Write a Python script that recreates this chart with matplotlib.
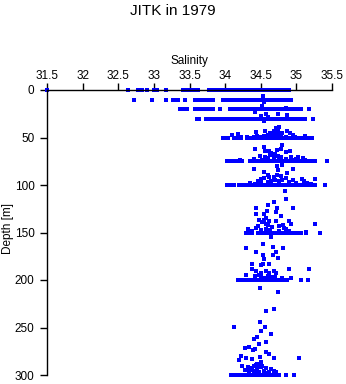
import matplotlib
matplotlib.use("Agg")
import matplotlib.pyplot as plt

plt.rcParams['font.family'] = ['Liberation Sans', 'DejaVu Sans']

title = "JITK in 1979"
xlabel = "Salinity"
ylabel = "Depth [m]"
xticks = [31.5, 32, 32.5, 33, 33.5, 34, 34.5, 35, 35.5]
xticklabels = ["31.5", "32", "32.5", "33", "33.5", "34", "34.5", "35", "35.5"]
yticks = [0, 50, 100, 150, 200, 250, 300]

# Standard-depth bands: depth and salinity values observed at that depth
level_depths = [0, 10.5, 20.3, 30, 51, 75, 100, 150, 200, 299.5]
sal_000 = [31.5, 32.64, 32.78, 32.81, 32.84, 32.9, 33.0, 33.02, 33.05, 33.17, 33.41, 33.44, 33.47, 33.5, 33.54,
           33.58, 33.62, 33.78, 33.83, 33.86, 33.88, 33.91, 33.94, 33.96, 33.99, 34.02, 34.04, 34.07, 34.1, 34.12,
           34.15, 34.18, 34.2, 34.23, 34.26, 34.28, 34.31, 34.34, 34.36, 34.39, 34.42, 34.44, 34.47, 34.5, 34.52,
           34.55, 34.58, 34.6, 34.63, 34.66, 34.68, 34.71, 34.74, 34.76, 34.79, 34.82, 34.84, 34.87, 34.9]
sal_010 = [32.72, 32.97, 33.17, 33.27, 33.31, 33.34, 33.44, 33.58, 33.61, 33.64, 33.68, 33.72, 33.76, 33.8, 33.83,
           33.97, 34.02, 34.05, 34.07, 34.1, 34.13, 34.15, 34.18, 34.21, 34.23, 34.26, 34.29, 34.31, 34.34, 34.37,
           34.39, 34.42, 34.45, 34.47, 34.5, 34.53, 34.55, 34.58, 34.61, 34.63, 34.66, 34.69, 34.71, 34.74, 34.77,
           34.79, 34.82, 34.85, 34.87, 34.9, 34.93]
sal_020 = [33.37, 33.41, 33.46, 33.58, 33.61, 33.65, 33.7, 33.74, 33.8, 33.83, 33.93, 34.07, 34.09, 34.12, 34.15,
           34.17, 34.2, 34.23, 34.25, 34.28, 34.31, 34.33, 34.36, 34.39, 34.41, 34.44, 34.47, 34.49, 34.52, 34.55,
           34.57, 34.6, 34.63, 34.65, 34.68, 34.71, 34.73, 34.76, 34.79, 34.81, 34.84, 34.87, 34.89, 34.92, 34.97,
           35.0, 35.04, 35.07, 35.18]
sal_030 = [33.6, 33.63, 33.73, 33.78, 33.83, 33.86, 33.9, 33.94, 33.97, 34.0, 34.03, 34.06, 34.08, 34.11, 34.14,
           34.16, 34.19, 34.22, 34.24, 34.27, 34.3, 34.32, 34.35, 34.38, 34.4, 34.43, 34.46, 34.48, 34.51, 34.54,
           34.56, 34.59, 34.62, 34.64, 34.67, 34.7, 34.72, 34.75, 34.78, 34.8, 34.83, 34.86, 34.88, 34.91, 34.94,
           35.0, 35.05, 35.08, 35.12, 35.23]
sal_050 = [33.97, 34.0, 34.04, 34.12, 34.15, 34.19, 34.22, 34.3, 34.33, 34.36, 34.4, 34.42, 34.45, 34.47, 34.5,
           34.53, 34.55, 34.58, 34.61, 34.63, 34.66, 34.69, 34.71, 34.74, 34.77, 34.79, 34.82, 34.85, 34.87, 34.9,
           34.93, 34.95, 34.98, 35.01, 35.03, 35.06, 35.09, 35.11, 35.14, 35.17, 35.19, 35.22]
sal_075 = [34.03, 34.06, 34.1, 34.14, 34.18, 34.21, 34.24, 34.35, 34.38, 34.4, 34.43, 34.46, 34.48, 34.51, 34.54,
           34.56, 34.59, 34.62, 34.64, 34.67, 34.7, 34.72, 34.75, 34.78, 34.8, 34.83, 34.86, 34.88, 34.91, 34.94,
           34.96, 34.99, 35.02, 35.04, 35.07, 35.1, 35.12, 35.15, 35.18, 35.2, 35.23, 35.26, 35.43]
sal_100 = [34.03, 34.06, 34.09, 34.13, 34.2, 34.25, 34.3, 34.33, 34.36, 34.38, 34.41, 34.44, 34.46, 34.49, 34.52,
           34.54, 34.57, 34.6, 34.62, 34.65, 34.68, 34.7, 34.73, 34.76, 34.78, 34.81, 34.84, 34.86, 34.89, 34.92,
           34.94, 34.97, 35.0, 35.03, 35.06, 35.1, 35.14, 35.17, 35.2, 35.26, 35.4]
sal_150 = [34.29, 34.32, 34.38, 34.46, 34.48, 34.51, 34.54, 34.56, 34.59, 34.62, 34.64, 34.67, 34.7, 34.72, 34.75,
           34.78, 34.8, 34.83, 34.86, 34.88, 34.91, 34.94, 34.97, 35.02, 35.07, 35.13, 35.33]
sal_200 = [34.18, 34.21, 34.25, 34.28, 34.3, 34.33, 34.36, 34.38, 34.41, 34.44, 34.46, 34.49, 34.52, 34.54, 34.57,
           34.6, 34.62, 34.65, 34.68, 34.7, 34.73, 34.76, 34.78, 34.81, 34.84, 34.87, 35.07, 35.16]
sal_300 = [34.08, 34.1, 34.13, 34.16, 34.18, 34.21, 34.24, 34.26, 34.29, 34.32, 34.34, 34.37, 34.4, 34.42, 34.45,
           34.48, 34.5, 34.53, 34.56, 34.58, 34.61, 34.64, 34.66, 34.69, 34.72, 34.76, 34.85, 34.96]
level_salinities = [sal_000, sal_010, sal_020, sal_030, sal_050, sal_075, sal_100, sal_150, sal_200, sal_300]

# Individual observations between the standard depths
scatter_depth = [
    6.5, 12.5, 17, 23, 25.5, 25.5, 26.3, 28, 31.5, 32.5, 27.5, 19,
    38.6, 42, 42.8, 44.6, 42.8, 45.6, 45, 45.6, 46.3, 47.4, 45.6, 48.4, 48.4, 48.4, 49, 49, 48.4, 47, 46.5,
    47.5, 49, 49.3, 48, 47.3, 49.5, 49.5, 50, 43, 40.5,
    58.2, 59.6, 62.5, 64.2, 64.2, 63.5, 61.8, 64.2, 65.3, 67.4, 68.4, 69.5, 70.9, 70.2, 72.6, 70.9, 71.9,
    72.6, 71, 72, 73, 73.5, 74, 72.5, 73.5, 69, 66, 79, 74, 71,
    80, 83.5, 83.5, 84.5, 86, 87.3, 89.5, 89.5, 90.5, 91.6, 93.7, 94, 94, 96.1, 96, 98.2, 92, 93, 94.5, 95,
    96.5, 97, 97.5, 98, 95.5, 96, 97.5, 98.5, 92.5, 94.5, 99, 106, 114.7,
    117.5, 121, 124.6, 124.6, 124.6, 127, 130.5, 130, 128, 132.6, 136.8, 136.8, 135, 137.5, 137.5, 138, 141,
    140.7, 146.7, 145.5, 143.5, 142.5, 144, 142.5, 146.5, 145, 147, 146, 147.5, 148, 148.5, 149, 148, 139,
    141, 143, 155,
    162, 166.7, 165.6, 166.7, 170, 170.9, 173.7, 173.7, 177, 178, 183, 183, 184, 183, 188.8, 188.8, 188,
    190, 190, 191, 192.5, 192.5, 193, 195.8, 196, 196.5, 194.7, 198, 197, 197.5, 198, 195, 197, 208.8, 212.3,
    230.5, 233, 244, 249, 249, 254, 257, 260, 262.5, 265.6, 267, 270, 272.6, 272, 274, 276, 277.5, 280,
    282.5, 281.5, 283, 284, 286, 282.5, 282.5, 290, 292, 291, 291, 293, 294.7, 295, 294, 293.5, 296, 297,
    295.5, 296.5, 297.5, 288, 289, 290, 292, 298, 298, 298, 296, 297, 295, 293,
]
scatter_salinity = [
    34.53, 34.54, 34.52, 34.42, 34.57, 34.74, 34.87, 34.6, 34.54, 34.55, 34.51, 34.85,
    34.76, 34.74, 34.56, 34.43, 34.87, 34.8, 34.71, 34.63, 34.18, 34.1, 34.91, 34.55, 34.7, 34.78, 34.31,
    34.22, 35.12, 34.66, 34.75, 34.6, 34.85, 34.5, 34.45, 34.95, 34.4, 34.98, 35.05, 34.68, 34.72,
    34.8, 34.55, 34.42, 34.56, 34.62, 34.73, 34.78, 34.91, 34.86, 34.7, 34.63, 34.49, 34.56, 34.78, 34.4,
    35.02, 35.09, 34.99, 34.68, 34.6, 34.75, 34.52, 34.21, 34.85, 34.95, 34.74, 34.65, 34.8, 35.12, 34.93,
    34.73, 34.4, 34.95, 34.74, 34.55, 34.87, 34.6, 34.73, 34.78, 34.68, 34.51, 35.26, 35.08, 34.46, 35.1,
    35.15, 34.62, 34.55, 34.7, 34.8, 34.6, 34.9, 34.5, 35.0, 34.65, 34.75, 34.35, 34.42, 34.85, 34.95, 35.2,
    34.84, 34.85,
    34.68, 34.6, 34.43, 34.73, 34.95, 34.59, 34.43, 34.55, 34.71, 34.78, 34.47, 34.54, 34.57, 34.62, 34.71,
    34.89, 34.93, 35.26, 34.32, 34.44, 34.46, 34.6, 34.66, 34.81, 34.86, 34.83, 34.51, 34.57, 34.63, 34.75,
    34.9, 35.13, 34.38, 34.52, 34.58, 34.75, 34.64,
    34.53, 34.29, 34.67, 34.81, 34.44, 34.71, 34.53, 34.67, 34.74, 34.55, 34.38, 34.53, 34.51, 34.61, 34.89,
    35.18, 34.38, 34.44, 34.57, 34.68, 34.72, 34.5, 34.62, 34.42, 34.6, 34.7, 34.29, 34.93, 34.5, 34.55,
    34.8, 34.47, 34.65, 34.49, 34.74,
    34.69, 34.57, 34.49, 34.13, 34.56, 34.5, 34.64, 34.45, 34.4, 34.58, 34.48, 34.33, 34.42, 34.28, 34.39,
    34.57, 34.61, 34.22, 34.29, 34.49, 34.38, 34.2, 34.5, 34.68, 35.03, 34.24, 34.32, 34.4, 34.52, 34.57,
    34.28, 34.35, 34.45, 34.64, 34.4, 34.48, 34.55, 34.62, 34.7, 34.45, 34.43, 34.47, 34.5, 34.33, 34.42,
    34.58, 34.68, 34.72, 34.3, 34.38,
]

W, H = 346, 384
fig = plt.figure(figsize=(W / 100, H / 100), dpi=100)
ax = fig.add_axes([47 / W, 9 / H, 285 / W, 285 / H])

mk = dict(linestyle='none', marker='s', ms=2.4, mew=0, color='#0000ff', clip_on=False, antialiased=False)
for d, sal in zip(level_depths, level_salinities):
    ax.plot(sal, [d] * len(sal), **mk)
ax.plot(scatter_salinity, scatter_depth, **mk)

ax.set_xlim(31.5, 35.5)
ax.set_ylim(300, 0)
ax.xaxis.tick_top()
ax.xaxis.set_label_position('top')
ax.set_xticks(xticks)
ax.set_xticklabels(xticklabels)
ax.set_yticks(yticks)
ax.tick_params(axis='both', direction='out', length=5, width=1, labelsize=8.5, colors='black')
ax.tick_params(axis='x', pad=1)
ax.tick_params(axis='y', pad=4)
for s in ['right', 'bottom']:
    ax.spines[s].set_visible(False)
for s in ['top', 'left']:
    ax.spines[s].set_linewidth(1)
ax.set_xlabel(xlabel, fontsize=8.5, labelpad=4)
fig.text(8 / W, 1 - 228 / H, ylabel, rotation=90, ha='center', va='center', fontsize=8.5)
fig.text(0.5, 1 - 11 / H, title, ha='center', va='center', fontsize=11)

fig.savefig("out.png", dpi=100)
